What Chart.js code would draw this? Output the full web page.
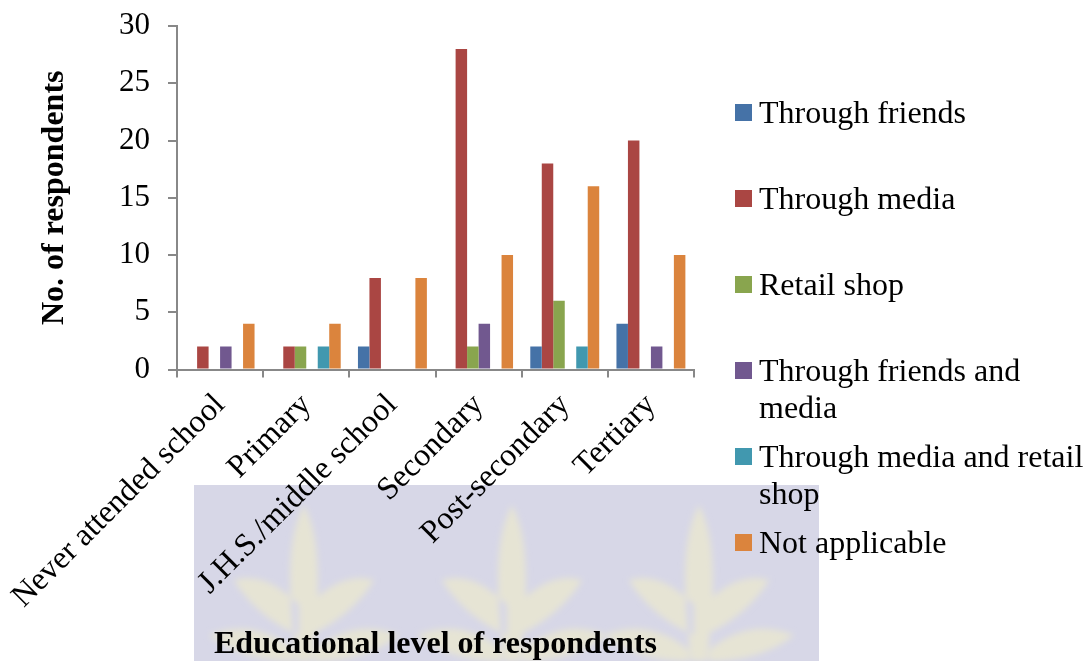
<!DOCTYPE html>
<html>
<head>
<meta charset="utf-8">
<script src="https://cdn.jsdelivr.net/npm/chart.js@4.4.1/dist/chart.umd.min.js"></script>
<style>
  body { margin: 0; background: #fff; }
  #wrap { position: relative; width: 1086px; height: 661px; overflow: hidden; }
  #watermark { position: absolute; left: 194px; top: 485px; width: 625px; height: 176px; background: #d7d7e7; }
  #chart { position: absolute; left: 0; top: 0; }
  #legend { position: absolute; left: 0; top: 0; font-family: "Liberation Serif", "Times New Roman", serif; font-size: 32px; color: #000; }
  .item { position: absolute; left: 735px; width: 345px; }
  .box { position: absolute; left: 0; top: 10px; width: 17px; height: 17px; }
  .txt { position: absolute; left: 24px; width: 327px; line-height: 37px; }
</style>
</head>
<body>
<div id="wrap">
  <div id="watermark">
    <svg width="625" height="176" viewBox="0 0 625 176">
      <defs><filter id="soft"><feGaussianBlur stdDeviation="3"/></filter></defs>
      <g fill="#e6e4d4" filter="url(#soft)">
        <path id="plant" d="M110 20 C125 50 128 90 118 176 L102 176 C92 90 95 50 110 20 Z
          M105 120 C80 95 60 90 40 95 C55 120 80 140 105 150 Z
          M115 120 C140 95 160 90 180 95 C165 120 140 140 115 150 Z
          M100 165 C70 140 40 140 15 150 C40 170 70 176 100 176 Z
          M120 165 C150 140 180 140 205 150 C180 170 150 176 120 176 Z"/>
        <use href="#plant" x="208"/>
        <use href="#plant" x="395"/>
      </g>
    </svg>
  </div>
  <canvas id="chart" width="1086" height="661"></canvas>
  <div id="legend"></div>
</div>
<script>
// categories on the x axis
const levels = ["Never attended school", "Primary", "J.H.S./middle school", "Secondary", "Post-secondary", "Tertiary"];

// one array per series
const throughFriends = [0, 0, 2, 0, 2, 4];
const throughMedia = [2, 2, 8, 28, 18, 20];
const retailShop = [0, 2, 0, 2, 6, 0];
const friendsAndMedia = [2, 0, 0, 4, 0, 2];
const mediaAndRetail = [0, 2, 0, 0, 2, 0];
const notApplicable = [4, 4, 8, 10, 16, 10];

const seriesNames = ["Through friends", "Through media", "Retail shop", "Through friends and media", "Through media and retail shop", "Not applicable"];
const seriesColors = ["#4572a7", "#aa4643", "#89a54e", "#71588f", "#4198af", "#db843d"];

const yTicks = [0, 5, 10, 15, 20, 25, 30];

const serif = "'Liberation Serif', 'Times New Roman', serif";
const allSeries = [throughFriends, throughMedia, retailShop, friendsAndMedia, mediaAndRetail, notApplicable];

const datasets = allSeries.map((vals, i) => ({
  label: seriesNames[i],
  data: vals,
  backgroundColor: seriesColors[i],
  borderWidth: 0,
  categoryPercentage: 0.8,
  barPercentage: 1.0
}));

new Chart(document.getElementById("chart"), {
  type: "bar",
  data: { labels: levels, datasets: datasets },
  options: {
    responsive: false,
    animation: false,
    layout: { padding: { top: 26, right: 392, bottom: 0, left: 0 } },
    plugins: { legend: { display: false }, tooltip: { enabled: false } },
    scales: {
      x: {
        grid: { display: true, drawOnChartArea: false, drawTicks: true, tickLength: 8, color: "#888", lineWidth: 2 },
        border: { color: "#888", width: 2 },
        ticks: { color: "#000", font: { family: serif, size: 32 }, minRotation: 45, maxRotation: 45, padding: 9 },
        title: { display: true, text: "Educational level of respondents", color: "#000",
                 font: { family: serif, size: 32, weight: "bold", lineHeight: 1 }, padding: { top: 0, bottom: 0 } },
        afterFit: s => { s.height = 291.5; s.paddingLeft = 0; s.paddingRight = 0; }
      },
      y: {
        min: 0, max: 30,
        afterBuildTicks: s => { s.ticks = yTicks.map(v => ({ value: v })); },
        grid: { display: true, drawOnChartArea: false, drawTicks: true, tickLength: 9, color: "#888", lineWidth: 2 },
        border: { color: "#888", width: 2 },
        ticks: { color: "#000", font: { family: serif, size: 31 }, padding: 18 },
        title: { display: true, text: "No. of respondents", color: "#000",
                 font: { family: serif, size: 32, weight: "bold", lineHeight: 1 }, padding: { top: 39, bottom: 0 } },
        afterFit: s => { s.width = 177; s.paddingTop = 0; s.paddingBottom = 0; }
      }
    }
  }
});

// legend drawn as html so long names can wrap like the original
const legend = document.getElementById("legend");
seriesNames.forEach((name, i) => {
  const item = document.createElement("div");
  item.className = "item";
  item.style.top = (112 + i * 86 - 18) + "px";
  item.innerHTML = '<div class="box" style="background:' + seriesColors[i] + '"></div><div class="txt">' + name + '</div>';
  legend.appendChild(item);
});
</script>
</body>
</html>
